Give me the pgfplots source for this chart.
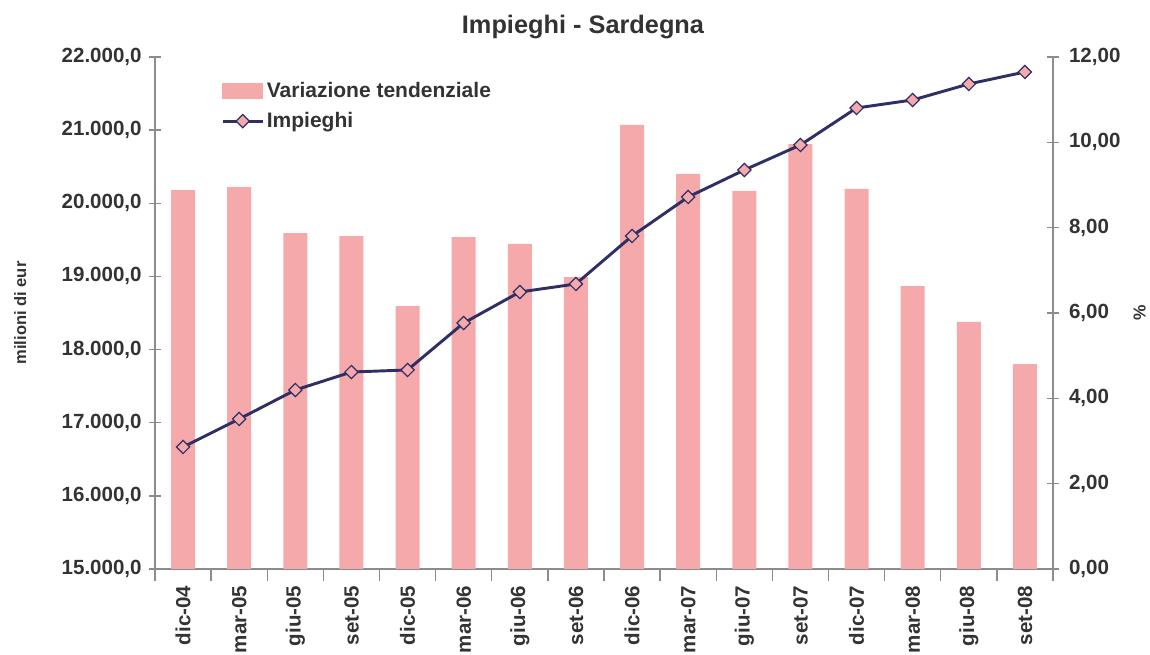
\documentclass[border=0pt]{standalone}
\usepackage{pgfplots}
\pgfplotsset{compat=1.18}
\usepackage{fontspec}
\setmainfont{Liberation Sans}
\definecolor{barpink}{HTML}{F5A9AA}
\definecolor{navy}{HTML}{2F2F66}
\definecolor{txt}{HTML}{333333}
\definecolor{axgray}{HTML}{8C8C8C}
\pgfplotstableread{
x bar line
0 8.88 16668
1 8.95 17051
2 7.87 17447
3 7.80 17693
4 6.16 17721
5 7.78 18363
6 7.62 18787
7 6.84 18897
8 10.41 19553
9 9.26 20086
10 8.86 20455
11 9.96 20797
12 8.91 21303
13 6.63 21412
14 5.79 21631
15 4.80 21795
}\datatable
\newcommand{\tickfont}{\fontsize{15.4}{18}\selectfont\bfseries}
\begin{document}
\begin{tikzpicture}
\pgfplotsset{
  common/.style={
    scale only axis, width=673.5pt, height=384pt,
    xmin=-0.5, xmax=15.5,
    axis line style={axgray, line width=1.2pt},
    tick style={axgray, line width=1pt},
    tick align=center, major tick length=9pt,
    /pgf/number format/assume math mode=true,
    ticklabel style={font=\tickfont, text=txt},
    scaled y ticks=false,
  }
}
\begin{axis}[common,
  axis y line*=right, axis x line*=bottom,
  ymin=0, ymax=12, ytick={0,2,...,12},
  yticklabel style={/pgf/number format/.cd, fixed, fixed zerofill, precision=2, use comma, /tikz/.cd, xshift=4pt},
  xtick={-0.5,0.5,...,15.5}, xticklabels={},
  extra x ticks={0,1,...,15},
  extra x tick labels={dic-04,mar-05,giu-05,set-05,dic-05,mar-06,giu-06,set-06,dic-06,mar-07,giu-07,set-07,dic-07,mar-08,giu-08,set-08},
  extra x tick style={major tick length=0pt, tick label style={rotate=90, anchor=east, xshift=-9pt}},
  ylabel={\fontsize{13}{15}\selectfont\bfseries\%},
  ylabel style={at={(axis description cs:1,0.5)}, anchor=center, yshift=-65pt, text=txt},
  ybar, bar width=18pt,
]
\addplot[fill=barpink, draw=none] table[x=x, y=bar] {\datatable};
\end{axis}
\begin{axis}[common,
  axis y line*=left, axis x line=none,
  ymin=15000, ymax=22000, ytick={15000,16000,...,22000},
  yticklabel style={/pgf/number format/.cd, fixed, fixed zerofill, precision=1, use comma, /tikz/.cd, xshift=-2pt},
  ylabel={\fontsize{12.4}{14}\selectfont\bfseries milioni di eur},
  ylabel style={at={(axis description cs:0,0.5)}, anchor=center, yshift=101pt, text=txt},
  title={\fontsize{19}{22}\selectfont\bfseries Impieghi - Sardegna},
  title style={at={(axis description cs:0.5,1)}, anchor=center, yshift=16.5pt, xshift=-15.75pt, text=txt},
  legend style={at={(axis description cs:0,1)}, anchor=north west, xshift=49.5pt, yshift=-16.5pt,
    draw=none, fill=none, font=\fontsize{15.75}{18}\selectfont\bfseries, text=txt,
    row sep=6pt, inner sep=0pt},
  legend cell align=left,
]
\addlegendimage{legend image code/.code={\fill[barpink] (0pt,-5.6pt) rectangle (30pt,5.6pt);}}
\addlegendentry{Variazione tendenziale}
\addplot[navy, line width=2.2pt, mark=square*, mark size=3.5pt,
  mark options={rotate=45, fill=barpink, draw=navy, line width=0.9pt},
  legend image code/.code={\draw[navy, line width=2.2pt] (0pt,0pt) -- (30pt,0pt);
    \draw[navy] plot[mark=square*, mark size=3.5pt, mark options={rotate=45, fill=barpink, draw=navy, line width=0.9pt}] coordinates {(15pt,0pt)};}]
  table[x=x, y=line] {\datatable};
\addlegendentry{Impieghi}
\end{axis}
\pgfresetboundingbox
\path (-116.25pt,-64.5pt) rectangle (746.25pt,426.75pt);
\end{tikzpicture}
\end{document}
